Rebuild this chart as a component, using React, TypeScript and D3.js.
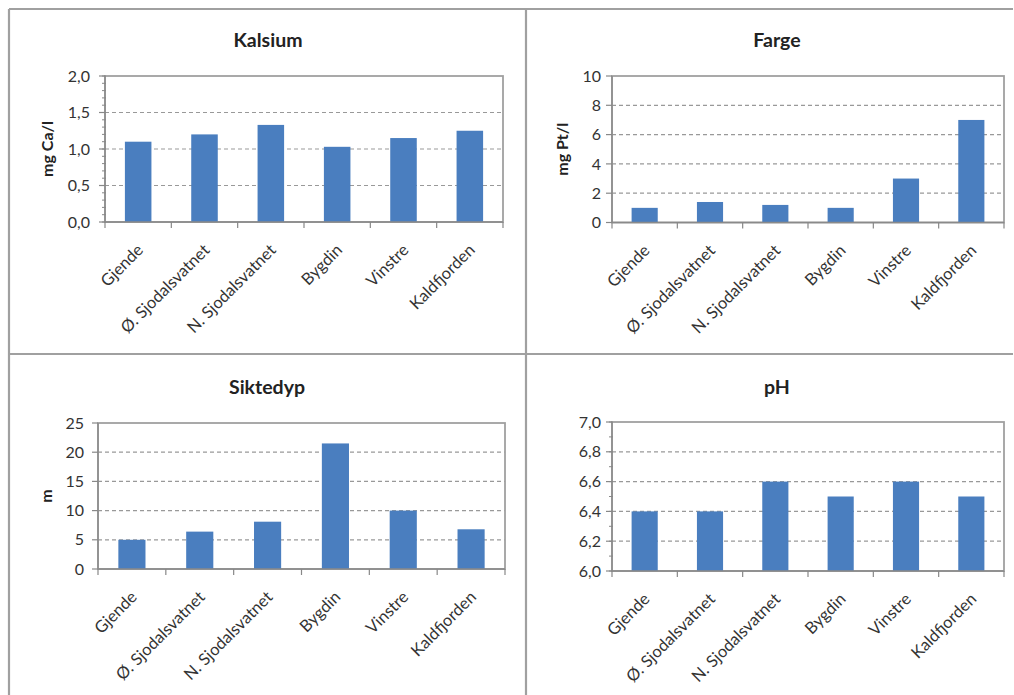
import React from "react";
import * as d3 from "d3";

const categories = ["Gjende", "Ø. Sjodalsvatnet", "N. Sjodalsvatnet", "Bygdin", "Vinstre", "Kaldfjorden"];

const kalsiumValues = [1.1, 1.2, 1.33, 1.03, 1.15, 1.25];
const fargeValues = [1.0, 1.4, 1.2, 1.0, 3.0, 7.0];
const siktedypValues = [5.0, 6.4, 8.1, 21.5, 10.0, 6.8];
const phValues = [6.4, 6.4, 6.6, 6.5, 6.6, 6.5];

const kalsiumTicks = [0, 0.5, 1.0, 1.5, 2.0];
const fargeTicks = [0, 2, 4, 6, 8, 10];
const siktedypTicks = [0, 5, 10, 15, 20, 25];
const phTicks = [6.0, 6.2, 6.4, 6.6, 6.8, 7.0];

const kalsiumMinor = d3.range(0, 2.0001, 0.1);
const phMinor = d3.range(6.0, 7.0001, 0.1);

const FONT = "Lato, 'Open Sans', 'Liberation Sans', sans-serif";
const BAR = "#4a7ebf";
const FRAME = "#a0a0a0";

type PanelProps = {
  title: string;
  yLabel?: string;
  values: number[];
  ticks: number[];
  minor?: number[];
  fmt: (v: number) => string;
  x0: number; x1: number; y0: number; y1: number;
  titleX: number; titleY: number;
  yLabelX?: number;
  tickGap: number;
};

function Panel(p: PanelProps) {
  const x = d3.scaleBand<string>().domain(categories).range([p.x0, p.x1]).paddingInner(0.6).paddingOuter(0.3);
  const xb = d3.scaleBand<string>().domain(categories).range([p.x0, p.x1]);
  const dom = d3.extent(p.ticks) as [number, number];
  const y = d3.scaleLinear().domain(dom).range([p.y1, p.y0]);
  const yMid = (p.y0 + p.y1) / 2;
  return (
    <g>
      <text x={p.titleX} y={p.titleY} textAnchor="middle" fontFamily={FONT} fontWeight="bold" fontSize={19.5} fill="#222">{p.title}</text>
      {p.yLabel && (
        <text transform={`translate(${p.yLabelX},${yMid}) rotate(-90)`} textAnchor="middle" fontFamily={FONT} fontWeight="bold" fontSize={16} fill="#222">{p.yLabel}</text>
      )}
      {p.ticks.slice(1, -1).map((t, i) => (
        <line key={"g" + i} x1={p.x0} x2={p.x1} y1={y(t)} y2={y(t)} stroke="#999" strokeWidth={1.2} strokeDasharray="4,3" />
      ))}
      <rect x={p.x0} y={p.y0} width={p.x1 - p.x0} height={p.y1 - p.y0} fill="none" stroke={FRAME} strokeWidth={1.8} />
      {p.values.map((v, i) => (
        <rect key={"b" + i} x={x(categories[i])} y={y(v)} width={x.bandwidth()} height={y(dom[0]) - y(v)} fill={BAR} />
      ))}
      <line x1={p.x0} x2={p.x0} y1={p.y0} y2={p.y1} stroke="#8a8a8a" strokeWidth={1.4} />
      <line x1={p.x0} x2={p.x1} y1={p.y1} y2={p.y1} stroke="#8a8a8a" strokeWidth={1.4} />
      {(p.minor || []).map((t, i) => (
        <line key={"m" + i} x1={p.x0 - 3} x2={p.x0 + 1} y1={y(t)} y2={y(t)} stroke="#888" strokeWidth={1} />
      ))}
      {p.ticks.map((t, i) => (
        <g key={"t" + i}>
          <line x1={p.x0 - 6} x2={p.x0} y1={y(t)} y2={y(t)} stroke="#888" strokeWidth={1.2} />
          <text x={p.x0 - p.tickGap} y={y(t)} dy="0.35em" textAnchor="end" fontFamily={FONT} fontSize={16} fill="#333">{p.fmt(t)}</text>
        </g>
      ))}
      {categories.map((c, i) => (
        <line key={"xt" + i} x1={xb(c)!} x2={xb(c)!} y1={p.y1} y2={p.y1 + 6} stroke="#888" strokeWidth={1.2} />
      ))}
      <line x1={p.x1} x2={p.x1} y1={p.y1} y2={p.y1 + 6} stroke="#888" strokeWidth={1.2} />
      {categories.map((c, i) => {
        const cx = xb(c)! + xb.bandwidth() / 2 + 2;
        const cy = p.y1 + 25;
        return (
          <text key={"xl" + i} transform={`translate(${cx},${cy}) rotate(-45)`} textAnchor="end" dy="0.35em" fontFamily={FONT} fontSize={16.5} fill="#333">{c}</text>
        );
      })}
    </g>
  );
}

const comma1 = (v: number) => d3.format(".1f")(v).replace(".", ",");
const int0 = (v: number) => d3.format("d")(v);

export default function App() {
  return (
    <svg width={1014} height={695} style={{ position: "absolute", left: 0, top: 0, background: "#fff" }}>
      <rect x={0} y={0} width={1014} height={695} fill="#fff" />
      <line x1={9} x2={1013} y1={9} y2={9} stroke={FRAME} strokeWidth={2.2} />
      <line x1={9} x2={9} y1={9} y2={695} stroke={FRAME} strokeWidth={2.2} />
      <line x1={526} x2={526} y1={9} y2={695} stroke={FRAME} strokeWidth={2.2} />
      <line x1={9} x2={1013} y1={354} y2={354} stroke={FRAME} strokeWidth={2.2} />
      <Panel title="Kalsium" yLabel="mg Ca/l" values={kalsiumValues} ticks={kalsiumTicks} minor={kalsiumMinor} fmt={comma1}
        x0={105} x1={503} y0={76} y1={222} titleX={268} titleY={46.5} yLabelX={53} tickGap={15} />
      <Panel title="Farge" yLabel="mg Pt/l" values={fargeValues} ticks={fargeTicks} fmt={int0}
        x0={612} x1={1004} y0={76} y1={222.5} titleX={777} titleY={46.5} yLabelX={568} tickGap={11} />
      <Panel title="Siktedyp" yLabel="m" values={siktedypValues} ticks={siktedypTicks} fmt={int0}
        x0={98} x1={505} y0={423} y1={569} titleX={267} titleY={394} yLabelX={52} tickGap={14} />
      <Panel title="pH" values={phValues} ticks={phTicks} minor={phMinor} fmt={comma1}
        x0={612} x1={1004} y0={422} y1={571} titleX={777} titleY={394} tickGap={11} />
    </svg>
  );
}
